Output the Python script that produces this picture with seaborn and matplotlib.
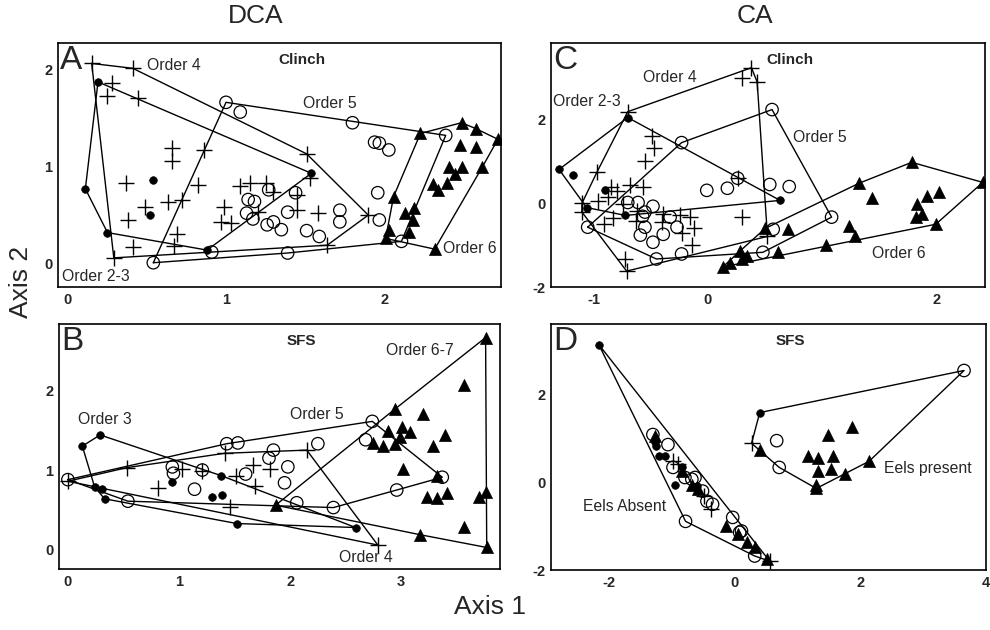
import matplotlib
matplotlib.use("Agg")
import matplotlib.pyplot as plt
import numpy as np
import pandas as pd
import seaborn as sns

sns.set_theme(style="white")
plt.rcParams['font.family'] = ['Liberation Sans', 'DejaVu Sans']

# ---------------- data ----------------
# Panel A : DCA, Clinch
A_ORDER23 = [(0.19, 1.87), (1.54, 0.93), (0.88, 0.14), (0.25, 0.32), (0.11, 0.77),
             (0.54, 0.86), (0.52, 0.50)]
A_ORDER4 = [(0.15, 2.06), (0.41, 2.01), (0.28, 1.86), (0.25, 1.72), (0.44, 1.70),
            (0.66, 1.19), (0.66, 1.06), (0.86, 1.17), (0.37, 0.83), (0.82, 0.81),
            (0.63, 0.63), (0.72, 0.66), (0.49, 0.58), (0.38, 0.45), (0.69, 0.31),
            (0.67, 0.18), (0.41, 0.17), (0.29, 0.06), (0.99, 0.58), (0.97, 0.43),
            (1.03, 0.42), (1.09, 0.80), (1.15, 0.83), (1.25, 0.83), (1.20, 0.53),
            (1.45, 0.55), (1.51, 1.13), (1.53, 0.88), (1.30, 0.74), (1.45, 0.71),
            (1.58, 0.52), (1.90, 0.50), (1.64, 0.19)]
A_ORDER5 = [(1.00, 1.66), (1.09, 1.56), (1.80, 1.45), (1.94, 1.25), (1.97, 1.24),
            (2.03, 1.17), (2.39, 1.32), (1.96, 0.73), (1.97, 0.45), (2.11, 0.23),
            (1.39, 0.11), (0.91, 0.12), (0.54, 0.01), (1.18, 0.64), (1.13, 0.52),
            (1.17, 0.46), (1.14, 0.66), (1.27, 0.76), (1.44, 0.73), (1.26, 0.40),
            (1.30, 0.43), (1.35, 0.35), (1.51, 0.34), (1.59, 0.28), (1.72, 0.55),
            (1.72, 0.43), (1.39, 0.53)]
A_ORDER6 = [(2.23, 1.34), (2.49, 1.45), (2.58, 1.39), (2.72, 1.28), (2.48, 1.22),
            (2.58, 1.20), (2.41, 0.99), (2.49, 0.99), (2.45, 0.92), (2.40, 0.83),
            (2.31, 0.82), (2.34, 0.76), (2.62, 0.99), (2.06, 0.69), (2.13, 0.52),
            (2.19, 0.57), (2.18, 0.45), (2.16, 0.33), (2.03, 0.35), (2.01, 0.26),
            (2.32, 0.15)]

# Panel C : CA, Clinch
C_ORDER23 = [(-1.30, 0.81), (-1.18, 0.67), (-0.70, 2.05), (-0.90, 0.33), (-1.06, -0.10),
             (-0.72, -0.29), (0.63, 0.07)]
C_ORDER4 = [(-0.70, 2.19), (0.38, 3.24), (0.30, 3.00), (0.43, 2.90), (0.52, -0.79),
            (-0.71, -1.62), (-0.72, -1.33), (-1.10, 0.00), (-0.49, 1.62), (-0.47, 1.33),
            (-0.55, 1.00), (-0.97, 0.74), (-0.85, 0.40), (-0.79, 0.29), (-0.68, 0.43),
            (-0.57, 0.38), (-0.87, 0.14), (-0.96, 0.05), (-1.10, -0.21), (-0.91, -0.50),
            (-0.83, -0.36), (-0.74, -0.02), (-0.62, -0.19), (-0.63, -0.43), (-0.39, -0.26),
            (-0.40, -0.45), (-0.24, -0.29), (-0.16, -0.33), (-0.12, -0.60), (-0.23, -0.71),
            (-0.14, -1.00), (0.30, -0.33), (0.26, 0.60)]
C_ORDER5 = [(-0.23, 1.45), (0.56, 2.24), (1.08, -0.33), (0.48, -1.17), (0.57, -0.62),
            (0.54, 0.45), (0.71, 0.40), (0.26, 0.60), (-0.01, 0.31), (0.17, 0.36),
            (-1.05, -0.57), (-0.70, 0.02), (-0.61, 0.02), (-0.55, -0.21), (-0.48, -0.07),
            (-0.57, -0.31), (-0.33, -0.33), (-0.27, -0.57), (-0.55, -0.57), (-0.59, -0.76),
            (-0.48, -0.93), (-0.39, -0.74), (-0.45, -1.33), (-0.23, -1.21)]
C_ORDER6 = [(1.78, 0.98), (2.40, 0.50), (1.32, 0.48), (1.43, 0.12), (1.91, 0.17),
            (2.02, 0.26), (1.83, -0.02), (1.87, -0.26), (1.82, -0.33), (1.23, -0.55),
            (1.28, -0.79), (1.99, -0.50), (1.03, -1.00), (0.70, -0.62), (0.61, -1.17),
            (0.50, -0.60), (0.30, -1.33), (0.13, -1.52), (0.19, -1.43), (0.28, -1.14),
            (0.34, -1.26)]

# Panel B : DCA, SFS
B_ORDER3 = [(0.13, 1.30), (0.29, 1.44), (0.24, 0.79), (0.31, 0.76), (0.33, 0.64),
            (0.94, 0.85), (1.38, 0.93), (1.30, 0.66), (1.39, 0.69), (1.52, 0.33),
            (2.59, 0.28)]
B_ORDER4 = [(0.00, 0.86), (0.53, 1.03), (0.81, 0.78), (1.03, 1.01), (1.21, 0.99),
            (1.41, 1.21), (1.46, 0.54), (1.51, 0.93), (1.67, 1.06), (1.68, 0.80),
            (1.82, 1.01), (2.15, 1.25), (2.79, 0.06)]
B_ORDER5 = [(0.00, 0.88), (0.54, 0.61), (0.94, 1.04), (0.95, 0.96), (1.14, 0.76),
            (1.21, 1.00), (1.43, 1.33), (1.53, 1.34), (1.60, 0.95), (1.85, 1.25),
            (1.81, 1.15), (1.98, 1.04), (1.95, 0.84), (2.06, 0.59), (2.25, 1.33),
            (2.74, 1.61), (2.68, 1.38), (3.37, 0.91), (2.96, 0.75), (2.39, 0.53)]
B_ORDER67 = [(3.76, 2.66), (3.57, 2.06), (2.94, 1.76), (3.20, 1.70), (2.88, 1.49),
             (3.01, 1.54), (3.08, 1.48), (2.99, 1.41), (2.75, 1.34), (2.84, 1.30),
             (2.94, 1.33), (3.39, 1.44), (3.29, 1.30), (3.02, 1.01), (3.32, 0.93),
             (3.23, 0.66), (3.32, 0.65), (3.41, 0.71), (3.76, 0.73), (3.70, 0.66),
             (3.57, 0.29), (3.17, 0.19), (3.77, 0.03), (1.87, 0.56)]

# Panel D : CA, SFS (hulls by eel presence)
D_ABS_SMALL = [(-2.16, 3.14), (-1.27, 0.91), (-1.25, 0.82), (-1.21, 0.59), (-1.10, 0.61),
               (-0.83, 0.34), (-0.95, -0.05), (-0.60, -0.09)]
D_ABS_PLUS = [(-0.98, 0.48), (-0.90, 0.41), (-0.48, -0.32), (-0.37, -0.61), (0.56, -1.80)]
D_ABS_OPEN = [(-1.30, 1.09), (-1.06, 0.86), (-0.98, 0.34), (-0.79, 0.11), (-0.68, 0.07),
              (-0.63, 0.11), (-0.51, -0.20), (-0.44, -0.43), (-0.35, -0.50), (-0.78, -0.89),
              (-0.03, -0.80), (0.11, -1.11), (0.08, -1.14), (0.32, -1.68)]
D_ABS_TRI = [(-1.27, 1.05), (-0.84, 0.25), (-0.67, -0.05), (-0.59, -0.16), (-0.13, -1.00),
             (0.05, -1.18), (0.19, -1.36), (0.32, -1.48), (0.51, -1.75)]
D_PRE_SMALL = [(0.40, 1.59)]
D_PRE_PLUS = [(0.27, 0.89)]
D_PRE_OPEN = [(0.67, 0.95), (0.71, 0.34), (3.65, 2.55)]
D_PRE_TRI = [(0.40, 0.73), (1.48, 1.09), (1.87, 1.27), (1.17, 0.59), (1.32, 0.55),
             (1.57, 0.59), (1.33, 0.25), (1.54, 0.30), (1.75, 0.20), (1.29, -0.07),
             (1.30, -0.14), (2.14, 0.48)]

# ---------------- helpers ----------------
def hull(pts):
    # monotone chain convex hull, returned closed
    p = sorted(set(pts))
    def cross(o, a, b):
        return (a[0] - o[0]) * (b[1] - o[1]) - (a[1] - o[1]) * (b[0] - o[0])
    lower, upper = [], []
    for q in p:
        while len(lower) >= 2 and cross(lower[-2], lower[-1], q) <= 0:
            lower.pop()
        lower.append(q)
    for q in reversed(p):
        while len(upper) >= 2 and cross(upper[-2], upper[-1], q) <= 0:
            upper.pop()
        upper.append(q)
    h = lower[:-1] + upper[:-1]
    return np.array(h + [h[0]])

MARK = {
    'small': dict(marker='o', s=30, color='black', edgecolor='black', linewidth=0.5),
    'plus': dict(marker='+', s=120, color='black', linewidth=1.0),
    'open': dict(marker='o', s=80, color='none', edgecolor='black', linewidth=0.9),
    'tri': dict(marker='^', s=75, color='black', edgecolor='black', linewidth=0.5),
}

def draw(ax, groups, hulls):
    for hs in hulls:
        h = hull(hs)
        ax.plot(h[:, 0], h[:, 1], color='black', lw=1.0, zorder=1)
    for kind, pts in groups:
        d = pd.DataFrame(pts, columns=['x', 'y'])
        sns.scatterplot(data=d, x='x', y='y', ax=ax, zorder=3, legend=False, **MARK[kind])

def style(ax, xlim, ylim, xt, yt, letter, site):
    ax.set_xlim(*xlim)
    ax.set_ylim(*ylim)
    ax.set_xticks(xt)
    ax.set_yticks(yt)
    ax.set_xticklabels([str(v) for v in xt], fontweight='bold')
    ax.set_yticklabels([str(v) for v in yt], fontweight='bold')
    ax.tick_params(length=0, pad=4, labelsize=10.5)
    ax.set_xlabel('')
    ax.set_ylabel('')
    for sp in ax.spines.values():
        sp.set_color('black')
        sp.set_linewidth(1.2)
    ax.text(0.005, 0.99, letter, transform=ax.transAxes, ha='left', va='top',
            fontsize=24)
    ax.text(0.55, 0.96, site, transform=ax.transAxes, ha='center', va='top',
            fontsize=11, fontweight='bold')

def lab(ax, x, y, s):
    ax.text(x, y, s, ha='left', va='center', fontsize=11.3, zorder=5)

fig = plt.figure(figsize=(9.9, 6.3), dpi=100)
axA = fig.add_axes([0.0586, 0.5444, 0.4475, 0.3873])
axC = fig.add_axes([0.5566, 0.5444, 0.4384, 0.3873])
axB = fig.add_axes([0.0596, 0.0968, 0.4455, 0.3889])
axD = fig.add_axes([0.5566, 0.0952, 0.4394, 0.3905])

# A
draw(axA, [('small', A_ORDER23), ('plus', A_ORDER4), ('open', A_ORDER5), ('tri', A_ORDER6)],
     [A_ORDER23, A_ORDER4, A_ORDER5, A_ORDER6])
style(axA, (-0.063, 2.74), (-0.24, 2.27), [0, 1, 2], [0, 1, 2], 'A', 'Clinch')
lab(axA, 0.50, 2.04, 'Order 4')
lab(axA, 1.49, 1.65, 'Order 5')
lab(axA, 2.37, 0.16, 'Order 6')
lab(axA, -0.04, -0.13, 'Order 2-3')

# C
draw(axC, [('small', C_ORDER23), ('plus', C_ORDER4), ('open', C_ORDER5), ('tri', C_ORDER6)],
     [C_ORDER23, C_ORDER4, C_ORDER5, C_ORDER6])
style(axC, (-1.37, 2.42), (-1.98, 3.83), [-1, 0, 2], [-2, 0, 2], 'C', 'Clinch')
lab(axC, -1.35, 2.43, 'Order 2-3')
lab(axC, -0.57, 3.00, 'Order 4')
lab(axC, 0.74, 1.57, 'Order 5')
lab(axC, 1.43, -1.19, 'Order 6')

# B
draw(axB, [('small', B_ORDER3), ('plus', B_ORDER4), ('open', B_ORDER5), ('tri', B_ORDER67)],
     [B_ORDER3, B_ORDER4, B_ORDER5, B_ORDER67])
style(axB, (-0.08, 3.89), (-0.24, 2.83), [0, 1, 2, 3], [0, 1, 2], 'B', 'SFS')
lab(axB, 0.09, 1.63, 'Order 3')
lab(axB, 2.00, 1.69, 'Order 5')
lab(axB, 2.86, 2.50, 'Order 6-7')
lab(axB, 2.44, -0.10, 'Order 4')

# D
draw(axD, [('small', D_ABS_SMALL), ('plus', D_ABS_PLUS), ('open', D_ABS_OPEN), ('tri', D_ABS_TRI),
           ('small', D_PRE_SMALL), ('plus', D_PRE_PLUS), ('open', D_PRE_OPEN), ('tri', D_PRE_TRI)],
     [D_ABS_SMALL + D_ABS_PLUS + D_ABS_OPEN + D_ABS_TRI,
      D_PRE_SMALL + D_PRE_PLUS + D_PRE_OPEN + D_PRE_TRI])
style(axD, (-2.92, 4.0), (-1.98, 3.61), [-2, 0, 2, 4], [-2, 0, 2], 'D', 'SFS')
lab(axD, -2.41, -0.55, 'Eels Absent')
lab(axD, 2.38, 0.32, 'Eels present')

fig.text(0.258, 0.975, 'DCA', ha='center', va='center', fontsize=19)
fig.text(0.763, 0.975, 'CA', ha='center', va='center', fontsize=19)
fig.text(0.021, 0.552, 'Axis 2', ha='center', va='center', rotation=90, fontsize=19)
fig.text(0.495, 0.037, 'Axis 1', ha='center', va='center', fontsize=19)

fig.savefig('out.png', dpi=100)
